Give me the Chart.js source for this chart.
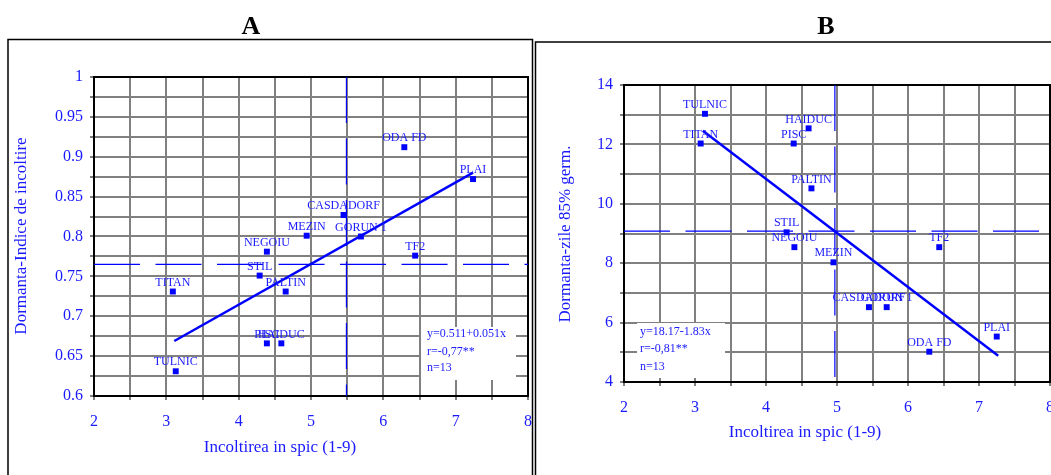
<!DOCTYPE html>
<html>
<head>
<meta charset="utf-8">
<script src="https://cdn.jsdelivr.net/npm/chart.js@4.4.1/dist/chart.umd.min.js"></script>
<style>
  html, body { margin: 0; padding: 0; background: #fff; overflow: hidden; }
  body { width: 1051px; height: 475px; position: relative; }
  .wrap { position: absolute; top: 0; height: 475px; }
  #wrapA { left: 0; width: 560px; }
  #wrapB { left: 530px; width: 540px; }
</style>
</head>
<body>
<div class="wrap" id="wrapA"><canvas id="chartA"></canvas></div>
<div class="wrap" id="wrapB"><canvas id="chartB"></canvas></div>
<script>
// soiuri (aceeasi ordine in ambele grafice)
const soiuri = ['TULNIC', 'TITAN', 'STIL', 'NEGOIU', 'PALTIN', 'PISC', 'HAIDUC', 'MEZIN', 'CASDADORF', 'GORUN 1', 'ODA FD', 'PLAI', 'TF2'];

// A: incoltire in spic vs indice de incoltire
const xA = [3.13, 3.09, 4.29, 4.39, 4.65, 4.39, 4.59, 4.94, 5.45, 5.69, 6.29, 7.24, 6.44];
const yA = [0.631, 0.731, 0.751, 0.781, 0.731, 0.666, 0.666, 0.801, 0.827, 0.800, 0.912, 0.872, 0.776];
const trendXA = [3.11, 7.24];
const trendYA = [0.669, 0.880];
const meanXA = 5.49;
const meanYA = 0.765;
const statsA = ['y=0.511+0.051x', 'r=-0,77**', 'n=13'];

// B: incoltire in spic vs zile pana la 85% germinatie
const xB = [3.14, 3.08, 4.29, 4.40, 4.64, 4.39, 4.60, 4.95, 5.45, 5.70, 6.30, 7.25, 6.44];
const yB = [13.03, 12.03, 9.04, 8.54, 10.52, 12.03, 12.54, 8.03, 6.52, 6.52, 5.02, 5.53, 8.54];
const trendXB = [3.11, 7.27];
const trendYB = [12.46, 4.88];
const meanXB = 4.97;
const meanYB = 9.08;
const statsB = ['y=18.17-1.83x', 'r=-0,81**', 'n=13'];

const BLUE = '#0000ff';
const TEXT = '#1a1aff';
const GRID = '#808080';
const SERIF = '"Liberation Serif", "Times New Roman", "DejaVu Serif", serif';

Chart.defaults.font.family = SERIF;
Chart.defaults.color = TEXT;

const toPts = (xs, ys) => xs.map((x, i) => ({ x, y: ys[i] }));

// text, chenare, etichete puncte
const decorPlugin = {
  id: 'decor',
  beforeDatasetsDraw(chart, args, o) {
    const { ctx, chartArea: a } = chart;
    ctx.save();
    ctx.fillStyle = '#fff';
    ctx.fillRect(o.box[0], o.box[1], o.box[2] - o.box[0], o.box[3] - o.box[1]);
    ctx.strokeStyle = '#000';
    ctx.lineWidth = 2;
    ctx.strokeRect(a.left, a.top, a.right - a.left, a.bottom - a.top);
    ctx.restore();
  },
  afterDatasetsDraw(chart, args, o) {
    const { ctx } = chart;
    const meta = chart.getDatasetMeta(0);
    ctx.save();
    ctx.fillStyle = TEXT;
    ctx.font = '12px ' + SERIF;
    ctx.textAlign = 'center';
    ctx.textBaseline = 'middle';
    meta.data.forEach((pt, i) => {
      ctx.fillText(soiuri[i], pt.x, pt.y - 9);
    });
    ctx.font = '12px ' + SERIF;
    ctx.textAlign = 'left';
    o.stats.forEach((s, i) => ctx.fillText(s, o.statsX, o.statsY[i]));
    ctx.restore();
  },
  afterDraw(chart, args, o) {
    const { ctx } = chart;
    ctx.save();
    // chenar panou
    ctx.strokeStyle = '#000';
    ctx.lineWidth = 1.5;
    ctx.beginPath();
    ctx.moveTo(o.frame[0], 480);
    ctx.lineTo(o.frame[0], o.frame[1]);
    ctx.lineTo(o.frame[2], o.frame[1]);
    ctx.lineTo(o.frame[2], 480);
    ctx.stroke();
    // litera panoului
    ctx.fillStyle = '#000';
    ctx.font = 'bold 26px ' + SERIF;
    ctx.textAlign = 'center';
    ctx.textBaseline = 'alphabetic';
    ctx.fillText(o.letter, o.letterX, 34);
    // titluri axe
    ctx.fillStyle = TEXT;
    ctx.font = '17px ' + SERIF;
    ctx.fillText(o.xTitle, o.xTitlePos[0], o.xTitlePos[1]);
    ctx.translate(o.yTitlePos[0], o.yTitlePos[1]);
    ctx.rotate(-Math.PI / 2);
    ctx.textBaseline = 'middle';
    ctx.fillText(o.yTitle, 0, 0);
    ctx.restore();
  }
};

function makeChart(id, p) {
  const dash = { showLine: true, borderColor: BLUE, borderWidth: 1.2, borderDash: [46, 15.5], pointRadius: 0, fill: false };
  return new Chart(document.getElementById(id), {
    type: 'scatter',
    data: {
      datasets: [
        { data: toPts(p.x, p.y), backgroundColor: BLUE, borderWidth: 0, pointStyle: 'rect', radius: 4.2, hoverRadius: 4.2 },
        { data: toPts(p.trendX, p.trendY), showLine: true, borderColor: BLUE, borderWidth: 2.5, pointRadius: 0 },
        { ...dash, data: [{ x: p.meanX, y: p.yMax }, { x: p.meanX, y: p.yMin }] },
        { ...dash, data: [{ x: 2, y: p.meanY }, { x: 8, y: p.meanY }] }
      ]
    },
    options: {
      responsive: true,
      maintainAspectRatio: false,
      animation: false,
      devicePixelRatio: 1,
      layout: { padding: { left: 0, top: p.padTop, right: p.padRight, bottom: 0 } },
      plugins: {
        legend: { display: false },
        tooltip: { enabled: false },
        decor: p.decor
      },
      scales: {
        x: {
          type: 'linear', min: 2, max: 8,
          grid: { color: GRID, lineWidth: 2, tickLength: 4, tickColor: GRID },
          border: { display: false },
          ticks: {
            stepSize: 0.5, autoSkip: false, maxRotation: 0, padding: 12,
            color: TEXT, font: { size: 16 },
            callback: v => Number.isInteger(v) ? String(v) : ''
          },
          afterFit: s => { s.height = p.xAxisH; }
        },
        y: {
          type: 'linear', min: p.yMin, max: p.yMax,
          grid: { color: GRID, lineWidth: 2, tickLength: 4, tickColor: GRID },
          border: { display: false },
          ticks: {
            stepSize: p.yStep, autoSkip: false, padding: 7,
            color: TEXT, font: { size: 16 },
            callback: p.yLabel
          },
          afterFit: s => { s.width = 94; }
        }
      }
    },
    plugins: [decorPlugin]
  });
}

makeChart('chartA', {
  x: xA, y: yA, trendX: trendXA, trendY: trendYA, meanX: meanXA, meanY: meanYA,
  yMin: 0.6, yMax: 1, yStep: 0.025,
  yLabel: v => Math.abs(v / 0.05 - Math.round(v / 0.05)) < 1e-6 ? String(Number(v.toFixed(2))) : '',
  padTop: 77, padRight: 32, xAxisH: 79,
  decor: {
    box: [421, 327, 516, 380],
    stats: statsA, statsX: 427, statsY: [334, 352, 368],
    frame: [8, 39.5, 532.5],
    letter: 'A', letterX: 251,
    xTitle: 'Incoltirea in spic (1-9)', xTitlePos: [280, 452],
    yTitle: 'Dormanta-Indice de incoltire', yTitlePos: [22, 236]
  }
});

makeChart('chartB', {
  x: xB, y: yB, trendX: trendXB, trendY: trendYB, meanX: meanXB, meanY: meanYB,
  yMin: 4, yMax: 14, yStep: 1,
  yLabel: v => v % 2 === 0 ? String(v) : '',
  padTop: 85, padRight: 20, xAxisH: 93,
  decor: {
    box: [107, 323, 195, 378],
    stats: statsB, statsX: 110, statsY: [332, 349, 367],
    frame: [5.5, 42, 600],
    letter: 'B', letterX: 296,
    xTitle: 'Incoltirea in spic (1-9)', xTitlePos: [275, 437],
    yTitle: 'Dormanta-zile 85% germ.', yTitlePos: [36, 234]
  }
});
</script>
</body>
</html>
